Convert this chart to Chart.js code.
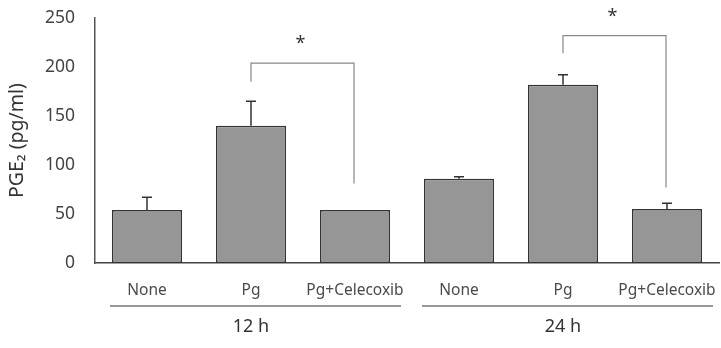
<!DOCTYPE html>
<html>
<head>
<meta charset="utf-8">
<script src="https://cdn.jsdelivr.net/npm/chart.js@4"></script>
<style>
  html, body { margin: 0; padding: 0; background: #fff; }
  #wrap { width: 721px; height: 348px; position: relative; }
</style>
</head>
<body>
<div id="wrap"><canvas id="c" width="721" height="348"></canvas></div>
<script>
// ---- data ----
const categories = ['None', 'Pg', 'Pg+Celecoxib', 'None', 'Pg', 'Pg+Celecoxib'];
const groupLabels = ['12 h', '24 h'];
const groupMembers = [[0, 2], [3, 5]];
const values = [54, 140, 54, 86, 182, 55];
const errors = [13, 25, 0, 2, 10, 6];
const yTicks = [0, 50, 100, 150, 200, 250];
// significance brackets: [left bar, right bar], top level, left end, right end (data units)
const sigPairs = [[1, 2], [4, 5]];
const sigTop = [204, 232];
const sigLeftEnd = [185, 214];
const sigRightEnd = [81, 77];
const sigMark = ['*', '*'];

const FONT = '"Noto Sans", "DejaVu Sans", sans-serif';

const extras = {
  id: 'extras',
  afterDatasetsDraw(chart) {
    const ctx = chart.ctx;
    const x = chart.scales.x, y = chart.scales.y;
    const meta = chart.getDatasetMeta(0);
    ctx.save();
    // error bars (upper only)
    ctx.strokeStyle = '#333';
    ctx.lineWidth = 1.5;
    values.forEach((v, i) => {
      const e = errors[i];
      if (!e) return;
      const cx = meta.data[i].x;
      const y0 = y.getPixelForValue(v);
      const y1 = y.getPixelForValue(v + e);
      ctx.beginPath();
      ctx.moveTo(cx, y0);
      ctx.lineTo(cx, y1);
      ctx.moveTo(cx - 5, y1);
      ctx.lineTo(cx + 5, y1);
      ctx.stroke();
    });
    // significance brackets
    ctx.strokeStyle = '#888';
    ctx.lineWidth = 1.2;
    sigPairs.forEach((p, k) => {
      const xl = x.getPixelForValue(p[0]);
      const xr = x.getPixelForValue(p[1]) - 1;
      const yt = y.getPixelForValue(sigTop[k]);
      ctx.beginPath();
      ctx.moveTo(xl, y.getPixelForValue(sigLeftEnd[k]));
      ctx.lineTo(xl, yt);
      ctx.lineTo(xr, yt);
      ctx.lineTo(xr, y.getPixelForValue(sigRightEnd[k]));
      ctx.stroke();
      ctx.fillStyle = '#333';
      ctx.font = '18px ' + FONT;
      ctx.textAlign = 'center';
      ctx.textBaseline = 'middle';
      ctx.fillText(sigMark[k], (xl + xr) / 2 - 2, yt - 19);
    });
    // group lines + labels
    ctx.strokeStyle = '#333';
    ctx.lineWidth = 1.2;
    ctx.fillStyle = '#333';
    ctx.font = '18px ' + FONT;
    ctx.textAlign = 'center';
    ctx.textBaseline = 'middle';
    const step = x.getPixelForValue(1) - x.getPixelForValue(0);
    groupLabels.forEach((g, k) => {
      const a = groupMembers[k][0], b = groupMembers[k][1];
      const xl = x.getPixelForValue(a) - step / 2 + 15;
      const xr = x.getPixelForValue(b) + step / 2 - 6;
      const ly = chart.chartArea.bottom + 43;
      ctx.beginPath();
      ctx.moveTo(xl, ly);
      ctx.lineTo(xr, ly);
      ctx.stroke();
      ctx.fillText(g, (x.getPixelForValue(a) + x.getPixelForValue(b)) / 2, chart.chartArea.bottom + 64);
    });
    ctx.restore();
  }
};

new Chart(document.getElementById('c'), {
  type: 'bar',
  data: {
    labels: categories,
    datasets: [{
      data: values,
      backgroundColor: '#969696',
      borderColor: '#333',
      borderWidth: 1.5,
      borderSkipped: false,
      categoryPercentage: 1,
      barPercentage: 0.673
    }]
  },
  options: {
    responsive: false,
    animation: false,
    devicePixelRatio: 1,
    layout: { padding: { top: 18, right: 2, left: 0, bottom: 0 } },
    plugins: { legend: { display: false }, tooltip: { enabled: false } },
    scales: {
      x: {
        grid: { display: false, drawTicks: false },
        border: { display: true, color: '#444', width: 1.5 },
        ticks: { color: '#4a4a4a', font: { family: FONT, size: 15.5 }, padding: 18, maxRotation: 0, autoSkip: false },
        afterFit(s) { s.height = 85; s.paddingLeft = 0; s.paddingRight = 0; }
      },
      y: {
        min: 0, max: 250,
        grid: { display: false, drawTicks: false },
        border: { display: true, color: '#555', width: 1.5 },
        afterBuildTicks(s) { s.ticks = yTicks.map(v => ({ value: v })); },
        ticks: { color: '#444', font: { family: FONT, size: 17.5 }, padding: 20 },
        title: { display: true, text: 'PGE₂ (pg/ml)', color: '#333', font: { family: FONT, size: 19.5 }, padding: { top: 6, bottom: 0 } },
        afterFit(s) { s.width = 95; s.paddingTop = 0; s.paddingBottom = 0; }
      }
    }
  },
  plugins: [extras]
});
</script>
</body>
</html>
